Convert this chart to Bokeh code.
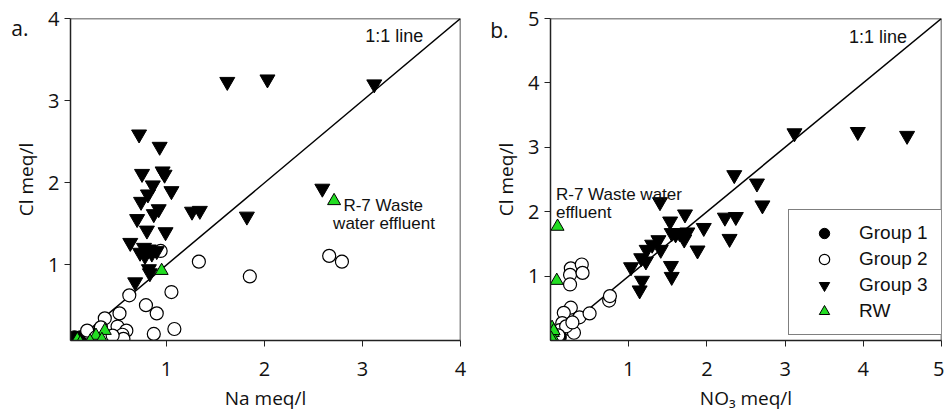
from bokeh.plotting import figure
from bokeh.layouts import row
from bokeh.models import Slope, Label, Legend, LegendItem, FixedTicker, Range1d, LinearAxis
from bokeh.embed import file_html
from bokeh.resources import INLINE

# ---------------- Panel a: Na vs Cl (meq/l) ----------------
a_g1_na = [0.04, 0.07, 0.10, 0.12, 0.15, 0.18, 0.20, 0.24, 0.06, 0.14, 0.22, 0.28, 0.09]
a_g1_cl = [0.07, 0.10, 0.06, 0.12, 0.08, 0.14, 0.10, 0.08, 0.12, 0.05, 0.16, 0.10, 0.04]

a_g2_na = [0.94, 1.33, 1.85, 2.66, 2.79, 0.62, 1.05, 0.79, 0.90, 0.87, 1.08, 0.37,
           0.52, 0.50, 0.59, 0.55, 0.56, 0.21, 0.19, 0.28, 0.33, 0.45]
a_g2_cl = [1.17, 1.04, 0.86, 1.11, 1.04, 0.63, 0.67, 0.51, 0.41, 0.16, 0.22, 0.35,
           0.41, 0.25, 0.20, 0.15, 0.10, 0.17, 0.20, 0.12, 0.24, 0.14]

a_g3_na = [1.62, 2.03, 3.12, 0.72, 0.93, 0.75, 0.96, 0.98, 0.86, 1.05, 0.81, 0.74,
           0.92, 0.87, 0.70, 1.26, 1.34, 0.80, 0.99, 0.63, 1.82, 2.59, 0.77, 0.82,
           0.73, 0.90, 0.78, 0.82, 0.83, 0.68, 0.85]
a_g3_cl = [3.23, 3.26, 3.20, 2.59, 2.44, 2.11, 2.14, 2.10, 1.97, 1.90, 1.86, 1.77,
           1.68, 1.62, 1.56, 1.65, 1.66, 1.42, 1.40, 1.27, 1.59, 1.93, 1.21, 1.19,
           1.15, 1.17, 1.11, 0.95, 0.90, 0.79, 1.14]

a_rw_na = [0.95, 2.71, 0.37, 0.28, 0.34, 0.09, 0.22, 0.12]
a_rw_cl = [0.93, 1.78, 0.20, 0.14, 0.09, 0.09, 0.07, 0.05]

# ---------------- Panel b: NO3 vs Cl (meq/l) ----------------
b_g1_no3 = [0.01, 0.03, 0.05, 0.02, 0.07, 0.04, 0.09, 0.06, 0.12, 0.03]
b_g1_cl = [0.06, 0.08, 0.04, 0.11, 0.06, 0.14, 0.09, 0.02, 0.05, 0.03]

b_g2_no3 = [0.26, 0.40, 0.25, 0.41, 0.25, 0.75, 0.76, 0.26, 0.17, 0.37, 0.50, 0.24,
            0.15, 0.12, 0.30, 0.20, 0.28, 0.10]
b_g2_cl = [1.12, 1.18, 1.02, 1.05, 0.87, 0.62, 0.69, 0.51, 0.43, 0.36, 0.42, 0.18,
           0.27, 0.16, 0.12, 0.22, 0.28, 0.08]

b_g3_no3 = [3.12, 3.93, 4.56, 2.35, 2.64, 2.71, 1.40, 1.72, 1.53, 1.96, 2.23, 2.37,
            2.29, 1.55, 1.65, 1.75, 1.71, 1.38, 1.30, 1.23, 1.16, 1.03, 1.41, 1.88,
            1.54, 1.55, 1.17, 1.14, 1.22, 1.60]
b_g3_cl = [3.22, 3.24, 3.18, 2.57, 2.44, 2.10, 2.15, 1.96, 1.85, 1.75, 1.91, 1.92,
           1.58, 1.67, 1.67, 1.68, 1.57, 1.56, 1.49, 1.41, 1.28, 1.14, 1.41, 1.40,
           1.16, 0.99, 0.93, 0.78, 1.23, 1.65]

b_rw_no3 = [0.09, 0.08, 0.02, 0.03, 0.02, 0.04, 0.01]
b_rw_cl = [1.77, 0.93, 0.20, 0.12, 0.06, 0.15, 0.03]

a_ticks = [1, 2, 3, 4]
b_ticks = [1, 2, 3, 4, 5]
legend_labels = ["Group 1", "Group 2", "Group 3", "RW"]

GREEN = "#22dd22"
AX_COLOR = "#222222"
NUM_FONT = "Open Sans"
TXT_FONT = "Liberation Sans"


def make_panel(width, x_range, y_range, ticks, x_label, borders, tag, tag_y):
    left, right, top, bottom = borders
    p = figure(width=width, height=415, x_range=Range1d(*x_range), y_range=Range1d(*y_range),
               output_backend="svg", toolbar_location=None,
               min_border_left=left, min_border_right=right,
               min_border_top=top, min_border_bottom=bottom)
    p.xgrid.visible = False
    p.ygrid.visible = False
    p.outline_line_color = None
    p.background_fill_color = "white"
    p.border_fill_color = "white"
    for ax, lbl in ((p.xaxis[0], x_label), (p.yaxis[0], "Cl meq/l")):
        ax.ticker = FixedTicker(ticks=ticks)
        ax.axis_label = lbl
        ax.axis_line_color = AX_COLOR
        ax.axis_line_width = 1.5
        ax.major_tick_line_color = AX_COLOR
        ax.major_tick_line_width = 1
        ax.major_tick_in = 0
        ax.major_tick_out = 6
        ax.minor_tick_line_color = None
        ax.major_label_text_font = NUM_FONT
        ax.major_label_text_font_size = "20px"
        ax.major_label_text_color = "#111111"
        ax.axis_label_text_font = NUM_FONT
        ax.axis_label_text_font_size = "19px"
        ax.axis_label_text_font_style = "normal"
        ax.axis_label_text_color = "#111111"
    p.xaxis[0].major_label_standoff = 15
    p.xaxis[0].axis_label_standoff = 6
    p.yaxis[0].major_label_standoff = 5
    p.yaxis[0].axis_label_standoff = 6
    p.yaxis[0].major_label_orientation = "horizontal"

    # closing frame edges on top and right, drawn as bare axis lines beneath the legend
    for place in ("above", "right"):
        edge = LinearAxis(ticker=FixedTicker(ticks=[]), axis_line_color=AX_COLOR,
                          axis_line_width=1.5, major_tick_line_color=None,
                          minor_tick_line_color=None, major_tick_out=0, major_tick_in=0,
                          major_label_standoff=0, major_label_text_font_size="0px",
                          level="underlay")
        p.add_layout(edge, place)

    # panel tag ("a." / "b.") in the left margin
    tag_axis = LinearAxis(ticker=FixedTicker(ticks=[tag_y]), major_label_overrides={tag_y: tag},
                          axis_line_color=None, major_tick_line_color=None,
                          minor_tick_line_color=None, major_tick_out=0, major_tick_in=0,
                          major_label_standoff=-18, major_label_text_font=NUM_FONT,
                          major_label_text_font_size="21px", major_label_text_color="#111111")
    p.add_layout(tag_axis, "left")

    # 1:1 reference line beneath the markers
    p.add_layout(Slope(gradient=1, y_intercept=0, line_color="black", line_width=1.5,
                       level="underlay"))
    return p


def draw_groups(p, g1, g2, g3, rw):
    r1 = p.scatter(g1[0], g1[1], marker="circle", size=13, fill_color="black", line_color="black")
    r2 = p.scatter(g2[0], g2[1], marker="circle", size=13, fill_color="white", line_color="black",
                   line_width=1.2)
    r3 = p.scatter(g3[0], g3[1], marker="inverted_triangle", size=15, fill_color="black",
                   line_color="black")
    r4 = p.scatter(rw[0], rw[1], marker="triangle", size=13, fill_color=GREEN, line_color="black",
                   line_width=1)
    return r1, r2, r3, r4


def text(p, x, y, s, size, align="left", baseline="alphabetic"):
    p.add_layout(Label(x=x, y=y, text=s, text_font=TXT_FONT, text_font_size=size,
                       text_align=align, text_baseline=baseline, text_color="#111111"))


# ---- panel a ----
pa = make_panel(470, (0.02, 4), (0.08, 4), a_ticks, "Na meq/l", (70, 10, 17, 75), "a.", 3.88)
draw_groups(pa, (a_g1_na, a_g1_cl), (a_g2_na, a_g2_cl), (a_g3_na, a_g3_cl), (a_rw_na, a_rw_cl))
text(pa, 3.62, 3.79, "1:1 line", "18px", align="right", baseline="middle")
text(pa, 2.805, 1.72, "R-7 Waste", "17px")
text(pa, 2.70, 1.50, "water effluent", "17px")

# ---- panel b ----
pb = make_panel(474, (0, 5), (0, 5), b_ticks, "NO\u2083 meq/l", (80, 3, 18, 70), "b.", 4.82)
rb = draw_groups(pb, (b_g1_no3, b_g1_cl), (b_g2_no3, b_g2_cl), (b_g3_no3, b_g3_cl),
                 (b_rw_no3, b_rw_cl))
text(pb, 4.56, 4.71, "1:1 line", "18px", align="right", baseline="middle")
text(pb, 0.07, 2.26, "R-7 Waste water", "17px")
text(pb, 0.07, 1.98, "effluent", "17px")

legend = Legend(items=[LegendItem(label=lab, renderers=[r]) for lab, r in zip(legend_labels, rb)],
                location=(238, 5), orientation="vertical",
                border_line_color="black", border_line_width=1,
                background_fill_color="white", background_fill_alpha=1,
                padding=10, spacing=0, margin=0,
                glyph_height=26, glyph_width=50, label_height=26, label_width=100,
                label_standoff=10, label_text_font=TXT_FONT, label_text_font_size="19px",
                label_text_color="#111111")
pb.add_layout(legend)

layout = row(pa, pb, spacing=0)
open("out.html", "w").write(file_html(layout, INLINE))
